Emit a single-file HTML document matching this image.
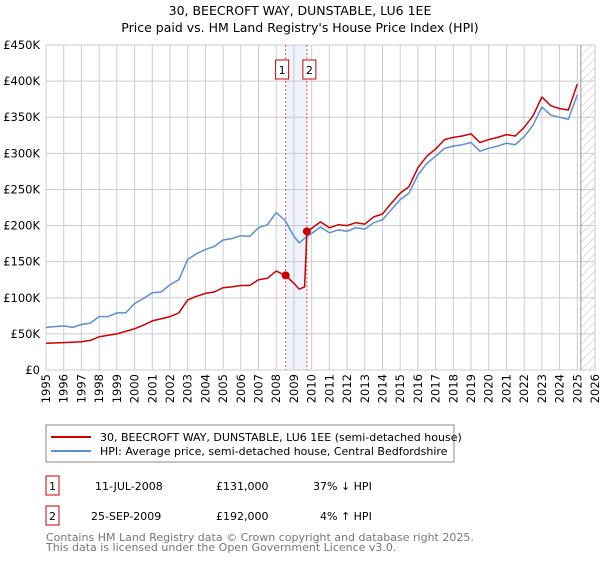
<!DOCTYPE html>
<html><head><meta charset="utf-8"><style>
body{margin:0;background:#fff;font-family:"Liberation Sans","DejaVu Sans",sans-serif}
svg text{font-family:"DejaVu Sans","Liberation Sans",sans-serif}
</style></head><body>
<svg id="c" width="600" height="560" xmlns="http://www.w3.org/2000/svg">
<defs><pattern id="hatch" width="6" height="6" patternUnits="userSpaceOnUse" patternTransform="rotate(45)"><line x1="0" y1="0" x2="0" y2="6" stroke="#bbb" stroke-width="1"/></pattern></defs>
<text x="300" y="15" text-anchor="middle" font-size="12.5">30, BEECROFT WAY, DUNSTABLE, LU6 1EE</text>
<text x="300" y="32" text-anchor="middle" font-size="12.5">Price paid vs. HM Land Registry's House Price Index (HPI)</text>
<g id="grid"></g><g id="marks"></g><g id="axes"></g>
<rect x="46" y="425" width="408" height="37" fill="#fff" stroke="#888"/>
<line x1="51" y1="437" x2="91" y2="437" stroke="#cc0000" stroke-width="2"/>
<text x="100" y="441" font-size="11">30, BEECROFT WAY, DUNSTABLE, LU6 1EE (semi-detached house)</text>
<line x1="51" y1="451" x2="91" y2="451" stroke="#5b8fd4" stroke-width="2"/>
<text x="100" y="455" font-size="11">HPI: Average price, semi-detached house, Central Bedfordshire</text>
<g>
<rect x="46" y="476" width="13" height="19" fill="none" stroke="#cc0000"/><text x="52.5" y="490" text-anchor="middle" font-size="11">1</text>
<text x="95" y="490" font-size="11">11-JUL-2008</text><text x="216" y="490" font-size="11">£131,000</text><text x="313" y="490" font-size="11">37% ↓ HPI</text></g>
<g>
<rect x="46" y="506" width="13" height="19" fill="none" stroke="#cc0000"/><text x="52.5" y="520" text-anchor="middle" font-size="11">2</text>
<text x="91" y="520" font-size="11">25-SEP-2009</text><text x="216" y="520" font-size="11">£192,000</text><text x="320" y="520" font-size="11">4% ↑ HPI</text></g>
<text x="46" y="541" font-size="11" fill="#777">Contains HM Land Registry data © Crown copyright and database right 2025.</text>
<text x="46" y="551" font-size="11" fill="#777">This data is licensed under the Open Government Licence v3.0.</text>
</svg>
<script>
const hpiYears=[1995,1996,1996.5,1997,1997.5,1998,1998.5,1999,1999.5,2000,2000.5,2001,2001.5,2002,2002.5,2003,2003.5,2004,2004.5,2005,2005.5,2006,2006.5,2007,2007.5,2008,2008.5,2009,2009.3,2009.73,2010,2010.5,2011,2011.5,2012,2012.5,2013,2013.5,2014,2014.5,2015,2015.5,2016,2016.5,2017,2017.5,2018,2018.5,2019,2019.5,2020,2020.5,2021,2021.5,2022,2022.5,2023,2023.5,2024,2024.5,2025];
const hpiValues=[59,61,59,63,65,74,74,79,79,92,99,107,108,118,125,153,161,167,171,180,182,186,185,197,201,218,207,185,176,185,189,198,190,194,192,197,195,204,208,222,236,245,270,286,296,307,310,312,315,303,307,310,314,312,323,339,364,353,350,347,381];
const priceYears=[1995,1996,1997,1997.5,1998,1999,2000,2000.5,2001,2002,2002.5,2003,2003.5,2004,2004.5,2005,2005.5,2006,2006.5,2007,2007.5,2008,2008.53,2009,2009.3,2009.6,2009.73,2010,2010.5,2011,2011.5,2012,2012.5,2013,2013.5,2014,2014.5,2015,2015.5,2016,2016.5,2017,2017.5,2018,2018.5,2019,2019.5,2020,2020.5,2021,2021.5,2022,2022.5,2023,2023.5,2024,2024.5,2025];
const priceValues=[37,38,39,41,46,50,57,62,68,74,79,97,102,106,108,114,115,117,117,125,127,137,131,120,112,115,192,196,205,197,201,200,204,202,212,216,231,245,254,280,296,306,319,322,324,327,315,319,322,326,324,336,352,378,366,362,360,396];
const saleYears=[2008.53,2009.73];
const saleValues=[131,192];
const saleLabels=["1","2"];
const yTicks=[0,50,100,150,200,250,300,350,400,450];
const yTickLabels=["£0","£50K","£100K","£150K","£200K","£250K","£300K","£350K","£400K","£450K"];
const xTicks=[];for(let y=1995;y<=2026;y++)xTicks.push(y);
const X0=46,X1=595,Y0=370,Y1=45;
const xs=v=>X0+(v-1995)*(X1-X0)/31;
const ys=v=>Y0-v*(Y0-Y1)/450;
const NS="http://www.w3.org/2000/svg";
function mk(tag,attrs,parent){const e=document.createElementNS(NS,tag);for(const k in attrs)e.setAttribute(k,attrs[k]);parent.appendChild(e);return e;}
const grid=document.getElementById('grid'),marks=document.getElementById('marks'),axes=document.getElementById('axes');
let e=mk('rect',{x:X0,y:Y1,width:X1-X0,height:Y0-Y1,fill:'#fff'},grid);


e=mk('rect',{x:xs(saleYears[0]),y:Y1,width:xs(saleYears[1])-xs(saleYears[0]),height:Y0-Y1,fill:'#eef3fc'},grid);


e=mk('rect',{x:xs(2025.2),y:Y1,width:X1-xs(2025.2),height:Y0-Y1,fill:'url(#hatch)'},grid);


xTicks.forEach((t,i)=>{
 const l=mk('line',{x1:xs(t),x2:xs(t),y1:Y1,y2:Y0,stroke:'#ccc','stroke-width':1},grid);
 
 
 const tx=mk('text',{x:0,y:0,'font-size':11.5,'text-anchor':'end',transform:`translate(${xs(t)+4},374) rotate(-90)`},axes);
 tx.textContent=t;
 
 
});
yTicks.forEach((t,i)=>{
 const l=mk('line',{x1:X0,x2:X1,y1:ys(t),y2:ys(t),stroke:'#ccc','stroke-width':1},grid);
 
 
 const tx=mk('text',{x:40,y:ys(t)+4,'font-size':11.5,'text-anchor':'end'},axes);
 tx.textContent=yTickLabels[i];
 
 
});
e=mk('line',{x1:xs(2025.2),x2:xs(2025.2),y1:Y1,y2:Y0,stroke:'#999'},grid);


saleYears.forEach((s,i)=>{
 const l=mk('line',{x1:xs(s),x2:xs(s),y1:Y1,y2:Y0,stroke:'#e55','stroke-width':1,'stroke-dasharray':'2,2'},marks);
 
 
});
function path(xa,va,color,name){
 const d=xa.map((x,i)=>(i?'L':'M')+xs(x).toFixed(1)+','+ys(va[i]).toFixed(1)).join('');
 const p=mk('path',{d:d,fill:'none',stroke:color,'stroke-width':1.5,'stroke-linejoin':'round'},marks);
 
 
}
path(hpiYears,hpiValues,'#5b8fd4','hpi-line');
path(priceYears,priceValues,'#cc0000','price-line');
saleYears.forEach((s,i)=>{
 const c=mk('circle',{cx:xs(s),cy:ys(saleValues[i]),r:4,fill:'#cc0000'},marks);
 
 
 const g=mk('g',{},marks);
 
 
 mk('rect',{x:xs(s)-7-(i?-3:3),y:60,width:13,height:19,fill:'#fff',stroke:'#cc0000'},g);
 const t=mk('text',{x:xs(s)-0.5-(i?-3:3),y:74,'font-size':11,'text-anchor':'middle'},g);
 t.textContent=saleLabels[i];
});
</script>
</body></html>
